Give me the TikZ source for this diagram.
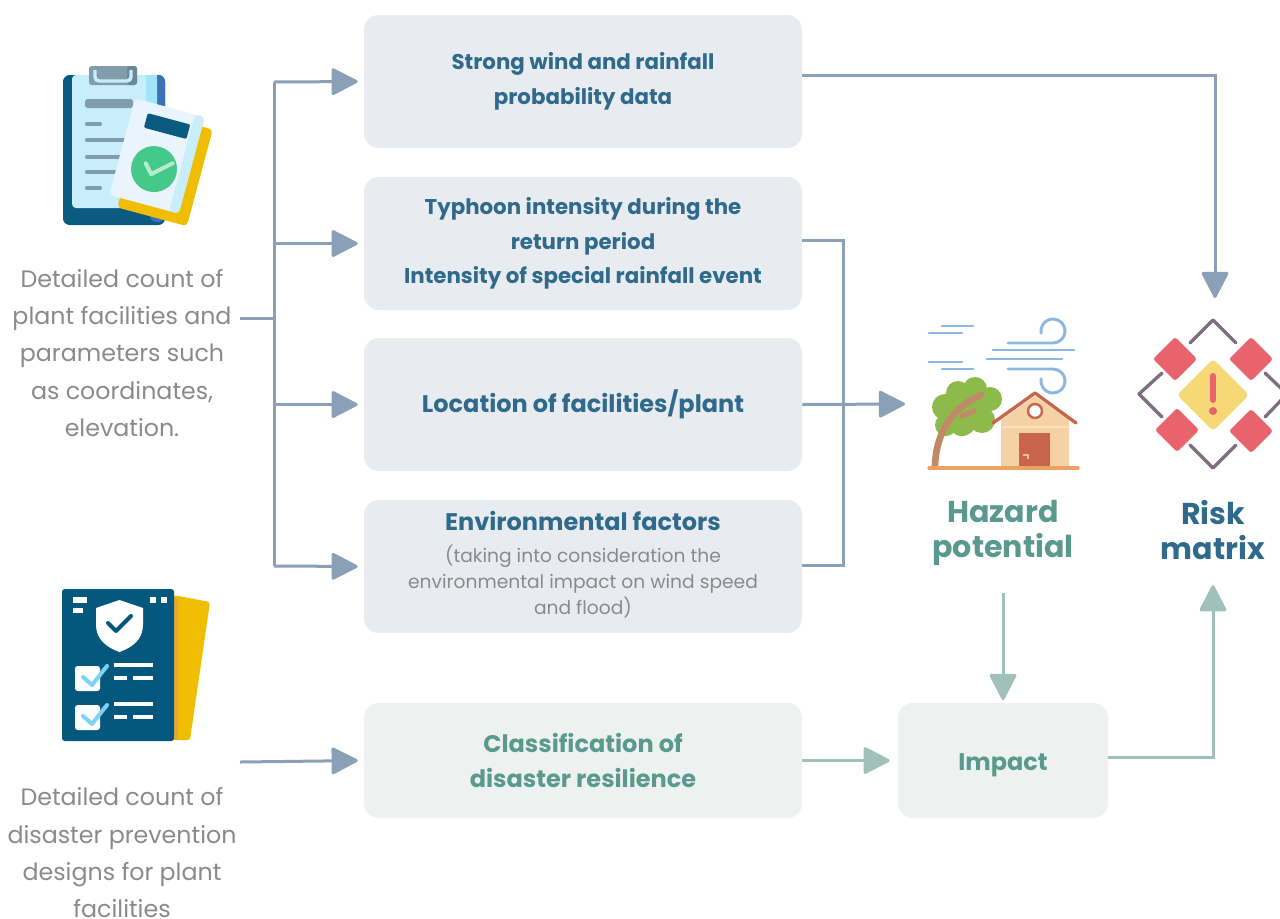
\documentclass[tikz,border=0pt]{standalone}
\usepackage{fontspec}
\setmainfont{Poppins}
\usetikzlibrary{arrows.meta}

\definecolor{boxblue}{HTML}{E8ECF1}
\definecolor{boxgreen}{HTML}{EDF1EF}
\definecolor{titleblue}{HTML}{2F6A8C}
\definecolor{titlegreen}{HTML}{5A9A8E}
\definecolor{textgray}{HTML}{8A8A8A}
\definecolor{linkblue}{HTML}{8AA0B8}
\definecolor{linkgreen}{HTML}{A0C1B9}
% clipboard icon
\definecolor{cbdark}{HTML}{0B5A80}
\definecolor{cbedge}{HTML}{3C73B8}
\definecolor{cbpaper}{HTML}{C9EEFB}
\definecolor{cbpaperhi}{HTML}{A2E4F8}
\definecolor{cbclip}{HTML}{7F9DAB}
\definecolor{cbclipdk}{HTML}{6A8895}
\definecolor{cbline}{HTML}{7F9DAB}
\definecolor{cbwhite}{HTML}{EAF4FD}
\definecolor{cbyellow}{HTML}{F0BE00}
\definecolor{cbgreen}{HTML}{45C98B}
\definecolor{cbcheck}{HTML}{B5EBCB}
% shield sheet icon
\definecolor{sddark}{HTML}{05587D}
\definecolor{sdyellow}{HTML}{F0BE00}
\definecolor{sdorange}{HTML}{E5A83A}
\definecolor{sdcheck}{HTML}{7DD3F7}
% hazard icon
\definecolor{windblue}{HTML}{8DB7E3}
\definecolor{leaf}{HTML}{8CBB4B}
\definecolor{trunk}{HTML}{C08A67}
\definecolor{roof}{HTML}{C8654B}
\definecolor{wall}{HTML}{F5D1A6}
\definecolor{wallhi}{HTML}{FBE2C3}
\definecolor{ground}{HTML}{EBA262}
% risk icon
\definecolor{riskyellow}{HTML}{F7D877}
\definecolor{riskred}{HTML}{E8636B}
\definecolor{riskframe}{HTML}{7F6E80}

\begin{document}
\begin{tikzpicture}[x=0.75pt,y=-0.75pt,
    box/.style={fill=boxblue,rounded corners=11pt,minimum width=328.5pt,minimum height=99.75pt,
      align=center,text=titleblue,font=\fontsize{16}{26}\selectfont\bfseries},
    bigbox/.style={box,font=\fontsize{18}{26}\selectfont\bfseries},
    greenbox/.style={bigbox,fill=boxgreen,minimum height=86.25pt,text=titlegreen},
    desc/.style={align=center,text=textgray,font=\fontsize{17.8}{28}\selectfont},
    note/.style={align=center,text=textgray,font=\fontsize{14}{19.5}\selectfont},
    bigtitle/.style={align=center,font=\fontsize{22.6}{26.3}\selectfont\bfseries},
    flow/.style={draw=linkblue,line width=2.25pt,-{Triangle[length=21pt,width=21pt,round]}},
    greenflow/.style={flow,draw=linkgreen},
    link/.style={draw=linkblue,line width=2.25pt}]
  \useasboundingbox (0,0) rectangle (1280,918);

  % input boxes
  \node[box] (wind) at (583,81.5) {Strong wind and rainfall\\probability data};
  \node[box] (typhoon) at (583,243.5) {Typhoon intensity during the\\return period\\Intensity of special rainfall event};
  \node[bigbox] (location) at (583,404.5) {Location of facilities/plant};
  \node[box] (envfac) at (583,566.5) {};
  \node[text=titleblue,font=\fontsize{18}{26}\selectfont\bfseries] (envtitle) at (583,521) {Environmental factors};
  \node[note] (envnote) at (583,582) {(taking into consideration the\\environmental impact on wind speed\\and flood)};
  \node[greenbox] (resil) at (583,760.5) {Classification of\\disaster resilience};
  \node[greenbox,minimum width=157.5pt,text height=20pt] (impact) at (1003,760.5) {Impact};

  % outputs
  \node[bigtitle,text=titlegreen] (hazard) at (1003,533) {Hazard\\potential};
  \node[bigtitle,text=titleblue] (risk) at (1213,530) {Risk\\matrix};

  % left descriptions
  \node[desc] (plantdesc) at (122,353) {Detailed count of\\plant facilities and\\parameters such\\as coordinates,\\elevation.};
  \node[desc] (designdesc) at (122,853) {Detailed count of\\disaster prevention\\designs for plant\\facilities};

  \coordinate (pd-out) at (240,318);
  \coordinate (split) at (274,318);
  \coordinate (trunk-top) at (274,82);
  \coordinate (trunk-bot) at (274,566);
  \coordinate (dd-out) at (240,762);
  \coordinate (join) at (843,404);
  \coordinate (hazard-in) at (905,404);
  \coordinate (risk-in) at (1215,298);

  % connectors
  \path[link] (pd-out) edge (split);
  \path[link] (trunk-top) edge (trunk-bot);
  \draw[flow,shorten >=4.5pt] (trunk-top) -- (wind.west);
  \draw[flow,shorten >=4.5pt] (trunk-top |- typhoon.west) -- (typhoon.west);
  \draw[flow,shorten >=4.5pt] (trunk-top |- location.west) -- (location.west);
  \draw[flow,shorten >=4.5pt] (trunk-bot) -- (envfac.west);
  \draw[flow] ([yshift=4.5pt]wind.east) -| (risk-in);
  \draw[link] ([yshift=2pt]typhoon.east) -| (join) |- ([yshift=1pt]envfac.east);
  \draw[flow] (location.east) -- (hazard-in);
  \draw[flow,shorten >=4.5pt] (dd-out) -- (resil.west);
  \draw[greenflow,shorten >=6pt] (resil.east) -- (impact.west);
  \draw[greenflow,shorten <=17pt,shorten >=2pt] (hazard.south) -- (impact.north);
  \draw[greenflow,shorten >=15.5pt] ([yshift=2pt]impact.east) -| (risk.south);

  % clipboard
  \fill[cbdark,rounded corners=5pt] (63,75) rectangle (165,225);
  \fill[cbedge,rounded corners=5pt] (150,75) rectangle (165,222);
  \fill[cbpaper,rounded corners=3pt] (72,75) rectangle (157,208);
  \fill[cbpaperhi] (146,75) rectangle (157,208);
  \fill[cbclip,rounded corners=2pt] (89,66) rectangle (137,85);
  \fill[cbclipdk,rounded corners=2pt] (127,66) rectangle (137,85);
  \draw[cbpaper,line width=2.5pt,rounded corners=3pt] (95,70) -- (95,81) -- (131,81) -- (131,70);
  \fill[cbline,rounded corners=2pt] (85,99) rectangle (133,108);
  \foreach \yy/\xe in {124/100,140/128,157/128,172/128,188/100}
    \draw[cbline,line width=3pt,line cap=round] (87,\yy) -- (\xe,\yy);
  \begin{scope}[shift={(157,156)},rotate=-15]
    \fill[cbyellow,rounded corners=3pt] (-25,-40) rectangle (47,60);
    \fill[cbwhite,rounded corners=3pt] (-36,-50) rectangle (36,50);
    \fill[cbpaper,rounded corners=3pt] (26,-50) rectangle (36,50);
    \fill[cbdark,rounded corners=1pt] (-20,-39) rectangle (24,-24);
    \fill[cbgreen] (0.5,13.4) circle (23);
    \draw[cbcheck,line width=3pt,line cap=round,line join=round] (-9,10) -- (-1,19) -- (17,3);
  \end{scope}

  % shield sheet
  \fill[sdyellow,rounded corners=2pt] (173,595) -- (210,602) -- (190,740) -- (173,740) -- cycle;
  \fill[sdorange] (173,598) rectangle (178,740);
  \fill[sddark,rounded corners=2pt] (62,589) rectangle (174,741);
  \fill[white] (73,597) rectangle (87,603);
  \fill[white] (73,608) rectangle (83,613);
  \fill[white] (150,597) rectangle (156,603);
  \fill[white] (161,597) rectangle (167,603);
  \fill[white] (119.5,600) -- (143,608) -- (143,625) .. controls (143,640) and (131,648) .. (119.5,652)
    .. controls (108,648) and (96,640) .. (96,625) -- (96,608) -- cycle;
  \draw[sddark,line width=3pt,line cap=round,line join=round] (108,623) -- (116,631) -- (131,616);
  \foreach \yy in {666,705} {
    \fill[white,rounded corners=2pt] (75,\yy) rectangle (100,\yy+25);
    \draw[sdcheck,line width=3pt,line cap=round,line join=round] (83,\yy+11) -- (92,\yy+19) -- (107,\yy);
    \fill[white] (114,\yy-3) rectangle (153,\yy+1);
    \fill[white] (114,\yy+10) rectangle (127,\yy+14);
    \fill[white] (133,\yy+10) rectangle (153,\yy+14);
  }

  % hazard: wind, tree and house
  \begin{scope}[windblue,line width=2.2pt,line cap=round]
    \draw (942,326) -- (973,326);
    \draw (929,333) -- (962,333);
    \draw (929,362) -- (962,362);
    \draw (942,369) -- (973,369);
    \draw (993,350) -- (1074,350);
    \draw (987,359) -- (1062,359);
    \draw (1008,343) -- (1053,343) arc[start angle=90,end angle=-190,radius=12];
    \draw (1008,369) -- (1053,369) arc[start angle=-90,end angle=190,radius=12];
  \end{scope}
  \fill[leaf] (945,407) circle (13) (958,393) circle (12) (975,389) circle (12) (990,399) circle (12)
    (982,420) circle (13) (962,422) circle (14) (946,425) circle (11) (968,405) circle (16);
  \draw[trunk,line width=5pt,line cap=round] (935,466) .. controls (936,430) and (955,406) .. (981,395);
  \draw[trunk,line width=4pt,line cap=round] (962,416) -- (974,411);
  \fill[wall] (1001,420) -- (1035,396) -- (1069,420) -- (1069,467) -- (1001,467) -- cycle;
  \draw[wallhi,line width=2pt] (1002,427) -- (1068,427);
  \draw[roof,line width=2.5pt,line cap=round,line join=round] (993,423) -- (1035,393) -- (1076,423);
  \draw[roof,line width=1.8pt,fill=white] (1035,411) circle (7);
  \fill[roof] (1019,433) rectangle (1050,467);
  \draw[wallhi!70!roof,line width=1.5pt] (1023,455) -- (1028,455) -- (1028,459);
  \draw[ground,line width=2.5pt,line cap=round] (929,468) -- (1078,468);

  % risk matrix
  \fill[riskyellow,rounded corners=3pt] (1213,359) -- (1249,395) -- (1213,431) -- (1177,395) -- cycle;
  \foreach \cx/\cy in {1175/359,1251/359,1177/430,1251/431}
    \fill[riskred,rounded corners=2pt] (\cx,\cy-22) -- (\cx+22,\cy) -- (\cx,\cy+22) -- (\cx-22,\cy) -- cycle;
  \begin{scope}[riskframe,line width=2.5pt,line cap=round,line join=round]
    \draw (1190,343) -- (1213,320) -- (1236,343);
    \draw (1162,373) -- (1139,394) -- (1162,417);
    \draw (1265,373) -- (1287,394) -- (1265,417);
    \draw (1190,445) -- (1213,468) -- (1236,445);
  \end{scope}
  \draw[riskred,line width=4.5pt,line cap=round] (1213,376) -- (1213,400);
  \fill[riskred] (1213,411) circle (4);
\end{tikzpicture}
\end{document}
